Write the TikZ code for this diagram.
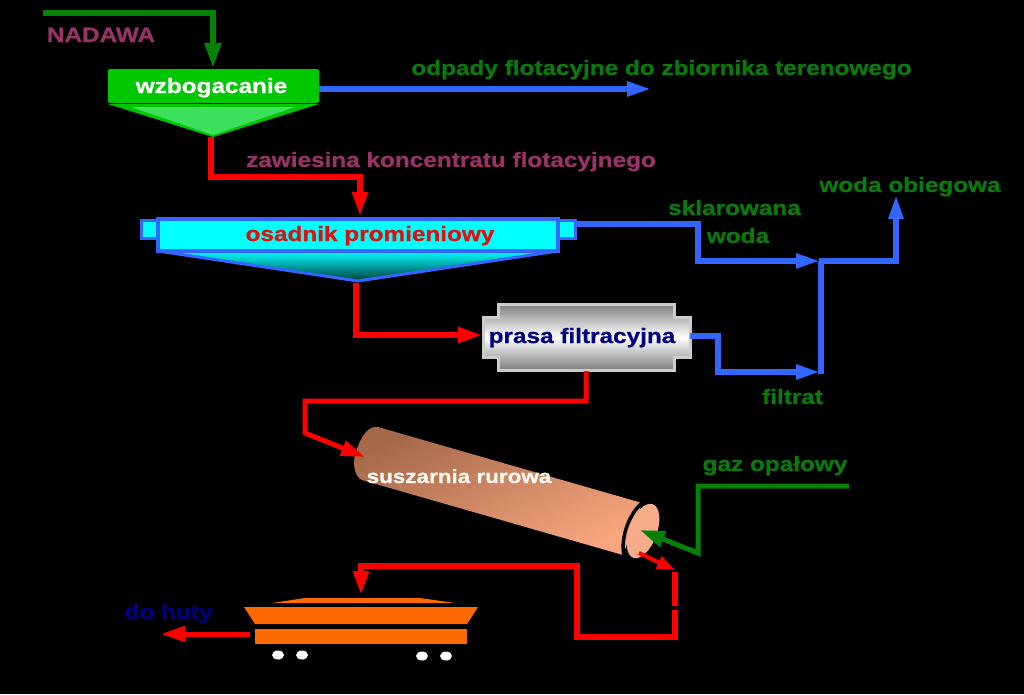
\documentclass[tikz,border=0pt]{standalone}
\usepackage{fontspec}
\setmainfont{Liberation Sans}[FakeStretch=1.17,BoldFeatures={FakeBold=0.8}]
\usetikzlibrary{arrows.meta}
\definecolor{flowblue}{HTML}{3366FF}
\definecolor{flowgreen}{HTML}{078007}
\definecolor{flowred}{HTML}{FF0000}
\definecolor{labelgreen}{HTML}{0A7A0A}
\definecolor{labelplum}{HTML}{993366}
\definecolor{navytext}{HTML}{000080}
\definecolor{wagon}{HTML}{FF6A00}
\definecolor{boxgreen}{HTML}{00C800}
\definecolor{lightgreenfill}{HTML}{3CE05C}
\definecolor{aqua}{HTML}{00FFFF}
\definecolor{deepteal}{HTML}{003C3C}
\definecolor{setred}{HTML}{E01010}
\definecolor{tubedark}{HTML}{A4694A}
\definecolor{tubelight}{HTML}{F8A67E}
\definecolor{tubeend}{HTML}{F6AC88}
\tikzset{
  pipe/.style={line width=#1,line join=miter},
  pipe/.default=5.5pt,
  redpipe/.style={pipe,draw=flowred,-{Triangle[length=24pt,width=15pt]}},
  bluepipe/.style={pipe,draw=flowblue,-{Triangle[length=24pt,width=14pt]}},
  greenpipe/.style={pipe,draw=flowgreen,-{Triangle[length=25pt,width=16pt]}},
  lbl/.style={font=\fontsize{20.8}{24}\selectfont\bfseries,inner sep=0pt,outer sep=0pt,anchor=base},
  shapenode/.style={inner sep=0pt,outer sep=0pt},
}
\begin{document}
\begin{tikzpicture}[x=1pt,y=-1pt]
\useasboundingbox[fill=black] (0,0) rectangle (1024,694);

% --- flotation cell
\fill[boxgreen] (108,104) -- (319,104) -- (213,137) -- cycle;
\fill[lightgreenfill] (131,107) -- (295,107) -- (213,135) -- cycle;
\node[shapenode,fill=boxgreen,rounded corners=2pt,minimum width=211pt,minimum height=34pt] (wzb) at (213.5,86) {};
\node[lbl,text=white] (wzbt) at (211.5,93) {wzbogacanie};
\coordinate (wzbout) at (211,137);

% --- settler
\filldraw[draw=flowblue,line width=3pt,fill=aqua] (141,220) rectangle (158,238);
\filldraw[draw=flowblue,line width=3pt,fill=aqua] (558,220) rectangle (575,238);
\shade[top color=aqua,bottom color=deepteal] (158,251) -- (558,251) -- (358,281) -- cycle;
\draw[flowblue,line width=3pt,line join=round] (158,251) -- (358,281) -- (558,251);
\node[shapenode,draw=flowblue,line width=3.5pt,fill=aqua,minimum width=400pt,minimum height=32pt] (osa) at (358,235) {};
\node[lbl,text=setred] (osat) at (370,241) {osadnik promieniowy};
\coordinate (osaout) at (356,283);
\coordinate (osaright) at (575,224);

% --- filter press
\shade[draw=black!20,line width=3pt,top color=black!50,bottom color=black!50,middle color=white]
  (498,304) -- (674,304) -- (674,317) -- (690,317) -- (690,357) -- (674,357) -- (674,370)
  -- (498,370) -- (498,357) -- (483,357) -- (483,317) -- (498,317) -- cycle;
\node[lbl,text=navytext] (pra) at (582,343) {prasa filtracyjna};
\coordinate (praleft) at (482,335);
\coordinate (praright) at (690,336);
\coordinate (prabot) at (586,371);

% --- dryer
\shade[top color=tubedark,bottom color=tubelight,shading angle=25]
  (378,427) -- (642,503) -- (623,555) -- (362,480)
  .. controls (354,476) and (352,462) .. (356,452)
  .. controls (360,438) and (368,425) .. (378,427) -- cycle;
\fill[tubeend,rotate around={70:(643,531)}] (643,531) ellipse (28.5pt and 14pt);
\draw[black,line width=3.5pt,line cap=round] (642,503) .. controls (631,512) and (620,535) .. (624,556);
\node[lbl,text=white!95!orange,font=\fontsize{19.2}{24}\selectfont\bfseries] (sus) at (459,483) {suszarnia rurowa};
\coordinate (susin) at (365,457);
\coordinate (susgas) at (640,530);
\coordinate (susout) at (639,553);

% --- wagon
\fill[wagon] (272,603) -- (305,598) -- (420,598) -- (455,603) -- cycle;
\fill[wagon] (244,607) -- (478,607) -- (467,624) -- (255,624) -- cycle;
\node[shapenode,fill=wagon,minimum width=212pt,minimum height=15pt] (wag) at (361,636.5) {};
\fill[white] (278,655) ellipse (6pt and 4.5pt);
\fill[white] (302,655) ellipse (6pt and 4.5pt);
\fill[white] (422,656) ellipse (6pt and 4.5pt);
\fill[white] (446,656) ellipse (6pt and 4.5pt);
\coordinate (wagtop) at (361,595);
\coordinate (wagleft) at (250,634);

% --- labels
\node[lbl,text=labelplum] (nad) at (101,42) {NADAWA};
\node[lbl,text=labelgreen] (odp) at (661.5,75) {odpady flotacyjne do zbiornika terenowego};
\node[lbl,text=labelplum] (zaw) at (451,167) {zawiesina koncentratu flotacyjnego};
\node[lbl,text=labelgreen] (obi) at (910,192) {woda obiegowa};
\node[lbl,text=labelgreen] (skl) at (734.5,215) {sklarowana};
\node[lbl,text=labelgreen] (wod) at (738,243) {woda};
\node[lbl,text=labelgreen] (fil) at (792.5,404) {filtrat};
\node[lbl,text=labelgreen] (gaz) at (775,471) {gaz opałowy};
\node[lbl,text=navytext] (doh) at (168.5,619) {do huty};

% --- free ends and junctions
\coordinate (feed) at (43,13);
\coordinate (wastetip) at (651,89);
\coordinate (junc1) at (820,261);
\coordinate (junc2) at (820,372);
\coordinate (cwtip) at (896,195);
\coordinate (gas) at (849,486);
\coordinate (gasbend) at (698,553);
\coordinate (hutytip) at (161,634);
\coordinate (outtip) at (675,570);
\coordinate (gapa) at (675,572);
\coordinate (gapb) at (675,606);
\coordinate (gapc) at (675,610);

% --- connectors
\draw[greenpipe] (feed) -- (213,13) -- (213,68);
\draw[bluepipe] (319,89) -- (wastetip);
\draw[redpipe] (wzbout) -- (211,177) -- (360,177) -- (360,216);
\draw[redpipe] (osaout) -- (356,335) -- (praleft);
\draw[bluepipe] (osaright) -- (698,224) -- (698,261) -- (junc1);
\draw[bluepipe] (praright) -- (718,336) -- (718,372) -- (junc2);
\draw[pipe,draw=flowblue] (821,374) -- (821,261);
\draw[bluepipe] (819,261) -- (896,261) -- (cwtip);
\draw[redpipe,line width=5pt] (prabot) -- (586,401) -- (305,401) -- (305,433) -- (susin);
\draw[greenpipe,line width=5pt] (gas) -- (698,486) -- (gasbend) -- (susgas);
\draw[redpipe,line width=4pt,-{Triangle[length=18pt,width=13pt]}] (susout) -- (outtip);
\draw[pipe,draw=flowred] (gapa) -- (gapb);
\draw[redpipe] (gapc) -- (675,637) -- (577,637) -- (577,566) -- (361,566) -- (wagtop);
\draw[redpipe,line width=5pt] (wagleft) -- (hutytip);
\end{tikzpicture}
\end{document}
